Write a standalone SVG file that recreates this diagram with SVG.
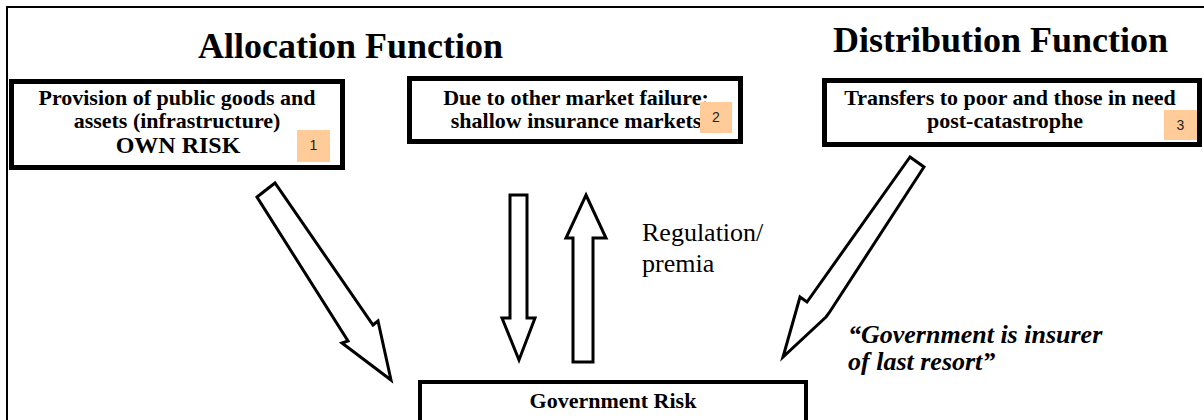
<svg xmlns="http://www.w3.org/2000/svg" width="1204" height="420" viewBox="0 0 1204 420">
<style>
.box{fill:#fff;stroke:#000;stroke-width:5}
.gbox{fill:#fff;stroke:#000;stroke-width:4}
.t{font-family:"Liberation Serif",serif;font-weight:bold;fill:#000;text-anchor:middle}
.title{font-family:"Liberation Serif",serif;font-weight:bold;font-size:36px;fill:#000}
.num{fill:#FFCC99}
.numt{font-family:"Liberation Sans",Arial,sans-serif;font-size:14px;fill:#222;text-anchor:middle}
.arrow{fill:#fff;stroke:#000;stroke-width:3;stroke-linejoin:miter}
.lbl{font-family:"Liberation Serif",serif;font-size:26px;fill:#000}
.quote{font-family:"Liberation Serif",serif;font-size:26px;font-weight:bold;font-style:italic;fill:#000}
</style>
<rect width="1204" height="420" fill="#fff"/>
<path d="M7 420 V7 H1204" fill="none" stroke="#000" stroke-width="2"/>
<text class="title" x="198" y="58">Allocation Function</text>
<text class="title" x="833" y="52">Distribution Function</text>
<g id="node-own-risk">
<rect class="box" x="11.5" y="81.5" width="331" height="86"/>
<text class="t" x="177" y="105" font-size="22">Provision of public goods and</text>
<text class="t" x="177" y="128" font-size="22">assets (infrastructure)</text>
<text class="t" x="178" y="153" font-size="24">OWN RISK</text>
<rect class="num" x="297" y="130" width="33" height="32"/>
<text class="numt" x="313.5" y="150">1</text>
</g>
<g id="node-market-failure">
<rect class="box" x="409.5" y="78.5" width="331" height="63"/>
<text class="t" x="576" y="105" font-size="22">Due to other market failure:</text>
<text class="t" x="576" y="128" font-size="22">shallow insurance markets</text>
<rect class="num" x="700" y="102" width="32" height="31"/>
<text class="numt" x="716" y="122">2</text>
</g>
<g id="node-transfers">
<rect class="box" x="824.5" y="80.5" width="375" height="64"/>
<text class="t" x="1010" y="105" font-size="22">Transfers to poor and those in need</text>
<text class="t" x="1005" y="128" font-size="22">post-catastrophe</text>
<rect class="num" x="1164" y="110" width="33" height="30"/>
<text class="numt" x="1180.5" y="130">3</text>
</g>
<g id="node-government-risk">
<rect class="gbox" x="420" y="382" width="386" height="60"/>
<text class="t" x="613" y="408" font-size="22">Government Risk</text>
</g>
<g id="connectors">
<polygon class="arrow" points="257,197 275,183 373,325 378,321 391,380 342,343 348,341"/>
<polygon class="arrow" points="510,195 527,195 527,318 535,318 519,360 502,318 510,318"/>
<polygon class="arrow" points="586,195 606,238 593,238 593,362 573,362 573,238 566,238"/>
<polygon class="arrow" points="910,157 924,167 829,313 826,317 783,357 800,297 807,302"/>
</g>
<text class="lbl" x="642" y="241">Regulation/</text>
<text class="lbl" x="642" y="272">premia</text>
<text class="quote" x="848" y="343">“Government is insurer</text>
<text class="quote" x="848" y="370">of last resort”</text>
</svg>
